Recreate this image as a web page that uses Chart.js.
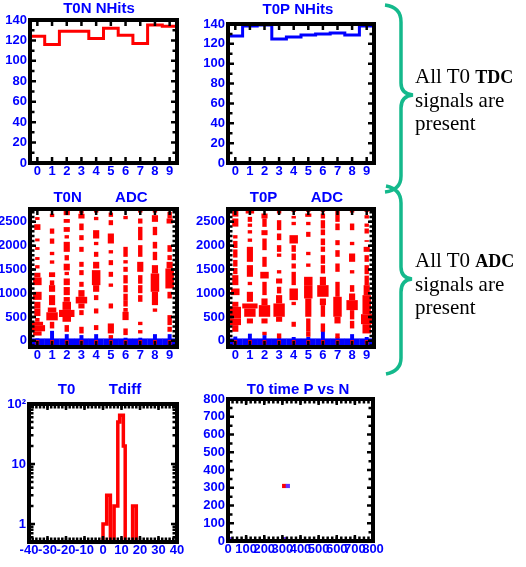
<!DOCTYPE html>
<html>
<head>
<meta charset="utf-8">
<title>T0 monitor</title>
<script src="https://cdn.jsdelivr.net/npm/chart.js@4.4.1/dist/chart.umd.min.js"></script>
<style>
  html, body { margin: 0; padding: 0; background: #fff; }
  #page { position: relative; width: 526px; height: 567px; overflow: hidden; }
  .panel { position: absolute; }
  .note {
    position: absolute; left: 415px; margin: 0;
    font-family: "Liberation Serif", "Times New Roman", serif;
    font-size: 21px; line-height: 23px; color: #000; white-space: nowrap;
  }
  .note b { font-size: 18px; }
  #braces { position: absolute; left: 0; top: 0; }
</style>
</head>
<body>
<div id="page">
  <div class="panel" style="left:0;top:0;width:200px;height:185px"><canvas id="tonHits"></canvas></div>
  <div class="panel" style="left:190px;top:0;width:218px;height:185px"><canvas id="topHits"></canvas></div>
  <div class="panel" style="left:0;top:185px;width:203px;height:185px"><canvas id="tonAdcChart"></canvas></div>
  <div class="panel" style="left:190px;top:185px;width:215px;height:185px"><canvas id="topAdcChart"></canvas></div>
  <div class="panel" style="left:0;top:375px;width:201px;height:192px"><canvas id="tdiff"></canvas></div>
  <div class="panel" style="left:190px;top:375px;width:218px;height:192px"><canvas id="pvn"></canvas></div>

  <svg id="braces" width="526" height="567">
    <path d="M385,5 Q401,7 401,22 L401,83 Q401,94 413,95 Q401,96 401,108 L401,176 Q401,190 385,192"
          fill="none" stroke="#14b98c" stroke-width="3.5"/>
    <path d="M386,186 Q401,189 401,203 L401,267 Q401,278 412,279 Q401,280 401,292 L401,358 Q401,371 386,374"
          fill="none" stroke="#14b98c" stroke-width="3.5"/>
  </svg>
  <div class="note" style="top:65px">All T0 <b>TDC</b><br>signals are<br>present</div>
  <div class="note" style="top:249px">All T0 <b>ADC</b><br>signals are<br>present</div>
</div>

<script>
const RED = "#ff0000";
const BLUE = "#0000ff";
const VIOLET = "#6633ff";

// --- data ---
const channels = [0, 1, 2, 3, 4, 5, 6, 7, 8, 9];
const hitsTicks = [0, 20, 40, 60, 80, 100, 120, 140];
const tonHits = [124, 116, 129, 129, 122, 132, 125, 117, 135, 134];
const topHits = [128, 138, 139, 125, 127, 129, 130, 131, 129, 138];

const adcTicks = [0, 500, 1000, 1500, 2000, 2500];
// [channel, adc from, adc to, count level 1..5]
const tonAdc = [
  [0, 2540, 2600, 1], [0, 2330, 2450, 2], [0, 2090, 2150, 1], [0, 1910, 1970, 1], [0, 1700, 1760, 1],
  [0, 1520, 1590, 1], [0, 1330, 1430, 2], [0, 1170, 1330, 3], [0, 860, 1030, 3], [0, 680, 820, 2],
  [0, 520, 680, 2], [0, 400, 480, 1], [0, 330, 400, 4], [0, 200, 330, 5], [0, 110, 200, 3],
  [1, 2600, 2670, 1], [1, 2250, 2360, 1], [1, 2040, 2150, 1], [1, 1800, 1870, 1], [1, 1620, 1690, 1],
  [1, 1340, 1440, 2], [1, 1170, 1270, 1], [1, 1030, 1170, 2], [1, 750, 960, 2], [1, 600, 700, 3],
  [1, 430, 600, 4], [1, 260, 400, 1],
  [2, 2640, 2770, 2], [2, 2480, 2560, 2], [2, 2290, 2390, 2], [2, 2150, 2220, 1], [2, 1870, 2080, 2],
  [2, 1690, 1800, 1], [2, 1480, 1620, 2], [2, 1380, 1450, 1], [2, 1170, 1310, 2], [2, 960, 1130, 2],
  [2, 820, 920, 2], [2, 650, 820, 3], [2, 500, 650, 5], [2, 400, 500, 3], [2, 190, 330, 1],
  [3, 2675, 2765, 1], [3, 2570, 2670, 2], [3, 2325, 2465, 1], [3, 2115, 2220, 1], [3, 1870, 1975, 1],
  [3, 1555, 1660, 1], [3, 1380, 1485, 1], [3, 1135, 1240, 1], [3, 925, 1065, 2], [3, 785, 925, 4],
  [3, 680, 785, 2], [3, 540, 645, 1], [3, 155, 295, 1],
  [4, 2695, 2765, 1], [4, 2535, 2605, 1], [4, 2150, 2325, 2], [4, 2010, 2080, 1], [4, 1765, 1870, 1],
  [4, 1520, 1660, 2], [4, 1170, 1485, 3], [4, 1030, 1170, 2], [4, 855, 960, 1], [4, 575, 680, 1],
  [4, 225, 330, 1],
  [5, 2605, 2695, 1], [5, 2430, 2535, 1], [5, 2045, 2255, 2], [5, 1835, 1905, 1], [5, 1590, 1695, 1],
  [5, 1345, 1450, 1], [5, 1135, 1205, 1], [5, 680, 785, 1], [5, 155, 365, 2], [5, 50, 120, 1],
  [6, 2555, 2625, 1], [6, 1765, 1975, 1], [6, 1625, 1695, 1], [6, 1450, 1555, 1], [6, 1205, 1380, 1],
  [6, 1020, 1170, 1], [6, 855, 990, 1], [6, 720, 855, 1], [6, 610, 690, 1], [6, 435, 610, 2],
  [6, 120, 260, 1],
  [7, 2695, 2765, 1], [7, 2465, 2570, 1], [7, 2115, 2395, 1], [7, 1765, 2010, 1], [7, 1450, 1660, 2],
  [7, 1200, 1380, 1], [7, 1000, 1170, 1], [7, 820, 960, 1], [7, 330, 400, 1], [7, 155, 225, 1],
  [8, 2695, 2765, 1], [8, 2500, 2640, 2], [8, 2220, 2395, 1], [8, 1940, 2080, 1], [8, 1695, 1870, 1],
  [8, 1415, 1590, 2], [8, 1030, 1415, 3], [8, 750, 1030, 2], [8, 610, 680, 1],
  [9, 2570, 2710, 1], [9, 2465, 2570, 2], [9, 1870, 2010, 1], [9, 1695, 1800, 1], [9, 1520, 1660, 2],
  [9, 1100, 1520, 3], [9, 890, 1030, 1], [9, 330, 540, 1], [9, 190, 295, 1],
];
const topAdc = [
  [0, 2610, 2765, 2], [0, 2400, 2570, 2], [0, 2150, 2220, 1], [0, 1950, 2100, 1], [0, 1750, 1920, 1],
  [0, 1560, 1700, 1], [0, 1400, 1530, 1], [0, 1170, 1380, 2], [0, 960, 1100, 3], [0, 715, 820, 2],
  [0, 470, 715, 4], [0, 330, 470, 4], [0, 190, 330, 2],
  [1, 2675, 2765, 3], [1, 2500, 2605, 1], [1, 2395, 2465, 1], [1, 2255, 2325, 1], [1, 2080, 2150, 1],
  [1, 1660, 1975, 2], [1, 1345, 1590, 2], [1, 1170, 1240, 1], [1, 820, 1030, 2], [1, 680, 785, 5],
  [1, 505, 680, 4], [1, 365, 470, 2],
  [2, 2570, 2675, 2], [2, 2395, 2570, 1], [2, 2220, 2325, 2], [2, 1905, 2150, 1], [2, 1555, 1765, 1],
  [2, 1310, 1450, 3], [2, 960, 1240, 1], [2, 750, 890, 2], [2, 505, 750, 4], [2, 365, 470, 2],
  [2, 120, 190, 1],
  [3, 2675, 2765, 1], [3, 2325, 2535, 1], [3, 2115, 2255, 1], [3, 1870, 2010, 1], [3, 1765, 1835, 1],
  [3, 1415, 1485, 1], [3, 1205, 1310, 2], [3, 995, 1135, 1], [3, 785, 960, 2], [3, 505, 785, 4],
  [3, 400, 505, 2], [3, 50, 155, 1],
  [4, 2710, 2765, 1], [4, 2570, 2625, 1], [4, 2430, 2500, 1], [4, 2045, 2220, 3], [4, 1870, 2010, 1],
  [4, 1695, 1835, 1], [4, 1520, 1625, 1], [4, 1170, 1450, 1], [4, 855, 1100, 3], [4, 750, 820, 1],
  [4, 295, 400, 1],
  [5, 2710, 2765, 1], [5, 2605, 2675, 2], [5, 2430, 2500, 1], [5, 2185, 2290, 1], [5, 1800, 1870, 1],
  [5, 1555, 1625, 1], [5, 1170, 1345, 3], [5, 890, 1170, 3], [5, 505, 890, 2], [5, 190, 470, 1],
  [5, 85, 190, 1],
  [6, 2710, 2765, 1], [6, 2570, 2675, 1], [6, 2360, 2535, 1], [6, 2220, 2340, 1], [6, 2010, 2150, 1],
  [6, 1870, 1980, 1], [6, 1620, 1800, 1], [6, 1415, 1590, 1], [6, 1170, 1345, 2], [6, 925, 1170, 4],
  [6, 750, 890, 2], [6, 505, 750, 1], [6, 190, 365, 1],
  [7, 2500, 2765, 1], [7, 2325, 2465, 1], [7, 2010, 2115, 1], [7, 1765, 1905, 1], [7, 1450, 1625, 1],
  [7, 925, 1240, 1], [7, 505, 925, 3], [7, 365, 505, 2], [7, 50, 155, 1],
  [8, 2695, 2765, 1], [8, 2325, 2465, 1], [8, 2010, 2080, 1], [8, 1660, 1835, 2], [8, 1415, 1485, 1],
  [8, 1030, 1170, 1], [8, 855, 995, 2], [8, 645, 855, 4], [8, 450, 645, 1], [8, 260, 420, 1],
  [9, 2710, 2765, 1], [9, 2570, 2640, 1], [9, 2395, 2465, 1], [9, 2255, 2360, 1], [9, 2080, 2115, 1],
  [9, 1870, 1975, 2], [9, 1660, 1800, 1], [9, 1400, 1590, 1], [9, 1170, 1370, 1], [9, 960, 1170, 2],
  [9, 560, 960, 3], [9, 350, 560, 4], [9, 155, 350, 3],
];
const tonPedTop = [50, 210, 140, 120, 140, 85, 65, 65, 140, 140];
const topPedTop = [90, 150, 120, 90, 80, 80, 225, 80, 140, 80];
const pedBand = [-90, 50];
const pedRed = [-75, 15];

const tdiffTicksX = [-40, -30, -20, -10, 0, 10, 20, 30, 40];
const tdiffTicksY = [1, 10, 100];
const tdiffMin = 0.5;
const tdiffEdges = [-1, 0, 1, 2, 3, 4, 5, 6, 7, 8, 9, 10, 11, 12, 13, 14, 15, 16, 17, 18];
const tdiffCounts = [0, 1, 1, 3, 3, 0, 0, 2, 2, 50, 65, 65, 20, 0, 0, 0, 0, 2, 2, 0];

const timeTicks = [0, 100, 200, 300, 400, 500, 600, 700, 800];
const pvnBin = 20;
const pvnN = [10, 310, 310, 330];
const pvnP = [10, 10, 310, 310];
const pvnCount = [1, 1, 3, 1];

// --- look ---
const levelWidth = [0.3, 0.42, 0.58, 0.78, 1.05];

Chart.defaults.font.family = "'Liberation Sans', Arial, Helvetica, sans-serif";
Chart.defaults.font.weight = "bold";
Chart.defaults.font.size = 13;
Chart.defaults.color = BLUE;
Chart.defaults.animation = false;
Chart.defaults.plugins.legend.display = false;
Chart.defaults.plugins.tooltip.enabled = false;

function steps(from, to, step) {
  const out = [];
  for (let v = from; v <= to + 1e-9; v += step) out.push(+v.toFixed(6));
  return out;
}

// thick black box round the plot area with small ticks pointing inwards
const framePlugin = {
  id: "frame",
  afterDraw(chart, args, opts) {
    const { ctx, chartArea: a, scales } = chart;
    ctx.save();
    ctx.strokeStyle = "#000";
    ctx.lineWidth = 2.5;
    const tickX = (vals, len) => vals.forEach((v) => {
      const px = scales.x.getPixelForValue(v);
      if (px < a.left || px > a.right) return;
      ctx.beginPath();
      ctx.moveTo(px, a.bottom); ctx.lineTo(px, a.bottom - len);
      ctx.moveTo(px, a.top); ctx.lineTo(px, a.top + len);
      ctx.stroke();
    });
    const tickY = (vals, len) => vals.forEach((v) => {
      const py = scales.y.getPixelForValue(v);
      if (py < a.top || py > a.bottom) return;
      ctx.beginPath();
      ctx.moveTo(a.left, py); ctx.lineTo(a.left + len, py);
      ctx.moveTo(a.right, py); ctx.lineTo(a.right - len, py);
      ctx.stroke();
    });
    tickX(opts.xMajor || [], 6);
    tickX(opts.xMinor || [], 4.5);
    tickY(opts.yMajor || [], 6);
    tickY(opts.yMinor || [], 4.5);
    ctx.lineWidth = 4;
    ctx.strokeRect(a.left, a.top, a.right - a.left, a.bottom - a.top);
    ctx.restore();
  },
};

function axis(dir, type, min, max, values, size, label) {
  return {
    type, min, max, offset: false,
    grid: { display: false, drawTicks: false },
    border: { display: false },
    ticks: {
      color: BLUE,
      padding: dir === "x" ? 1 : 3,
      autoSkip: false, maxRotation: 0, minRotation: 0,
      callback: label || ((v) => String(v)),
    },
    afterBuildTicks: (s) => { s.ticks = values.map((v) => ({ value: v })); },
    afterFit: (s) => { if (dir === "x") s.height = size; else s.width = size; },
  };
}

// g: yw = y label column, rw = empty strip right of the plot (puts the title where it sits)
function makeChart(id, g, type, datasets, x, y, title, frame) {
  return new Chart(document.getElementById(id), {
    type,
    data: { datasets },
    options: {
      responsive: true,
      maintainAspectRatio: false,
      layout: { padding: { left: 0, right: 2, top: g.padT, bottom: 0 } },
      plugins: {
        title: {
          display: true, text: title, color: BLUE,
          font: { size: 15, weight: "bold" },
          padding: { top: 0, bottom: g.gap },
        },
        frame,
      },
      scales: {
        x: axis("x", x.type, x.min, x.max, x.ticks, g.xh, x.label),
        y: axis("y", y.type, y.min, y.max, y.ticks, g.yw, y.label),
        y2: {
          position: "right", display: true,
          grid: { display: false, drawTicks: false },
          border: { display: false },
          ticks: { display: false },
          afterFit: (s) => { s.width = g.rw; },
        },
      },
    },
    plugins: [framePlugin],
  });
}

function bars(data, color, width) {
  return {
    data, backgroundColor: color, borderWidth: 0,
    barPercentage: width, categoryPercentage: 1, grouped: false, clip: 0,
  };
}

function hitsLine(counts, color) {
  const pts = counts.map((n, i) => ({ x: channels[i] - 0.5, y: n }));
  pts.push({ x: channels[channels.length - 1] + 0.5, y: counts[counts.length - 1] });
  return [{ data: pts, borderColor: color, borderWidth: 3, pointRadius: 0, stepped: true, fill: false }];
}

function adcSets(segs, pedTop) {
  const sets = [bars(channels.map((c) => ({ x: c, y: pedRed })), RED, 0.26)];
  levelWidth.forEach((w, k) => {
    const d = segs.filter((s) => s[3] === k + 1).map((s) => ({ x: s[0], y: [s[1], s[2]] }));
    sets.push(bars(d, RED, w));
  });
  sets.push(bars(channels.map((c) => ({ x: c, y: [pedBand[0], pedTop[c]] })), BLUE, 0.27));
  sets.push(bars(channels.map((c) => ({ x: c, y: pedBand })), BLUE, 1.02));
  return sets;
}

const chanAxis = { type: "linear", min: -0.5, max: 9.5, ticks: channels };
const hitsAxis = { type: "linear", min: 0, max: 140, ticks: hitsTicks };
const adcAxis = { type: "linear", min: -130, max: 2770, ticks: adcTicks };
const hitsFrame = { xMajor: channels, yMajor: hitsTicks, yMinor: steps(10, 130, 20) };
const adcFrame = { xMajor: channels, yMajor: adcTicks, yMinor: steps(-100, 2700, 100) };

makeChart("tonHits", { yw: 30, rw: 21, padT: 0, gap: 2, xh: 22 }, "line",
  hitsLine(tonHits, RED), chanAxis, hitsAxis, "T0N NHits", hitsFrame);
makeChart("topHits", { yw: 38, rw: 32, padT: 1, gap: 5, xh: 22 }, "line",
  hitsLine(topHits, BLUE), chanAxis, hitsAxis, "T0P NHits", hitsFrame);

makeChart("tonAdcChart", { yw: 30, rw: 24, padT: 4, gap: 2, xh: 23 }, "bar",
  adcSets(tonAdc, tonPedTop), chanAxis, adcAxis, "T0N        ADC", adcFrame);
makeChart("topAdcChart", { yw: 38, rw: 29, padT: 4, gap: 2, xh: 23 }, "bar",
  adcSets(topAdc, topPedTop), chanAxis, adcAxis, "T0P        ADC", adcFrame);

const tdiffPts = tdiffEdges.map((e, i) => ({ x: e, y: Math.max(tdiffCounts[i], tdiffMin) }));
tdiffPts.push({ x: tdiffEdges[tdiffEdges.length - 1] + 1, y: tdiffMin });
const logMinor = [];
[0.1, 1, 10].forEach((d) => steps(2, 9, 1).forEach((m) => { if (m * d > tdiffMin && m * d < 100) logMinor.push(m * d); }));

makeChart("tdiff", { yw: 29, rw: 22, padT: 6, gap: 5, xh: 25 }, "line",
  [{ data: tdiffPts, borderColor: RED, borderWidth: 3.5, pointRadius: 0, stepped: true, fill: false }],
  { type: "linear", min: -40, max: 40, ticks: tdiffTicksX },
  { type: "logarithmic", min: tdiffMin, max: 100, ticks: tdiffTicksY, label: (v) => (v === 100 ? "10\u00b2" : String(v)) },
  "T0        Tdiff",
  { xMajor: tdiffTicksX, xMinor: steps(-38, 38, 2), yMajor: tdiffTicksY, yMinor: logMinor });

const pvnCells = pvnN.map((n, i) => ({ x: n, y: [pvnP[i] - pvnBin / 2, pvnP[i] + pvnBin / 2] }));
makeChart("pvn", { yw: 38, rw: 33, padT: 6, gap: 0, xh: 26 }, "bar",
  [bars(pvnCells, pvnCount.map((c) => (c > 1 ? RED : VIOLET)), 1)],
  { type: "linear", min: 0, max: 800, ticks: timeTicks },
  { type: "linear", min: 0, max: 800, ticks: timeTicks },
  "T0 time P vs N",
  { xMajor: timeTicks, xMinor: steps(25, 775, 25), yMajor: timeTicks, yMinor: steps(50, 750, 100) });
</script>
</body>
</html>
